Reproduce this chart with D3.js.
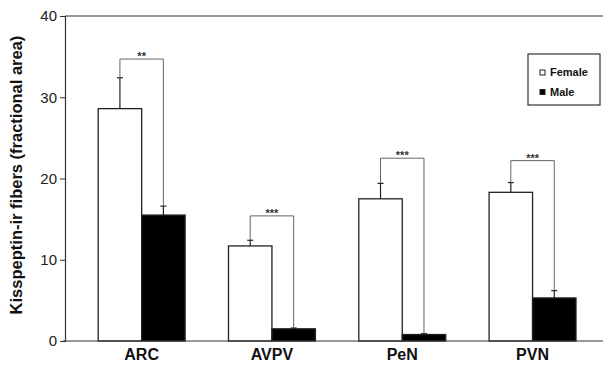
<!DOCTYPE html>
<html>
<head>
<meta charset="utf-8">
<script src="https://cdn.jsdelivr.net/npm/d3@7"></script>
<style>
  body { margin: 0; background: #fff; }
  svg { display: block; font-family: "Liberation Sans", Arial, sans-serif; }
</style>
</head>
<body>
<script>
const regions = ['ARC', 'AVPV', 'PeN', 'PVN'];
const femaleMean = [28.6, 11.7, 17.5, 18.3];
const femaleErr = [3.8, 0.7, 1.9, 1.2];
const maleMean = [15.5, 1.5, 0.8, 5.3];
const maleErr = [1.1, 0.1, 0.1, 0.9];
const sigLabels = ['**', '***', '***', '***'];
const bracketTop = [34.7, 15.4, 22.5, 22.2];
const yTicks = [0, 10, 20, 30, 40];

const W = 603, H = 366;
const svg = d3.select('body').append('svg').attr('width', W).attr('height', H);

const y = d3.scaleLinear().domain([0, 40]).range([341, 16]);
const x = d3.scaleBand().domain(regions).range([76.5, 597.7])
  .paddingInner(0.333).paddingOuter(0.1665);
const sub = d3.scaleBand().domain(['Female', 'Male']).range([0, x.bandwidth()]);

const stroke = '#222';

// frame: top line
svg.append('line')
  .attr('x1', 65).attr('x2', W).attr('y1', y(40)).attr('y2', y(40))
  .attr('stroke', '#333').attr('stroke-width', 1.2);

// y axis
const yAxis = d3.axisLeft(y).tickValues(yTicks).tickSize(5).tickPadding(3);
const gy = svg.append('g').attr('transform', 'translate(65,0)').call(yAxis);
gy.select('.domain').attr('stroke', '#333').attr('stroke-width', 1.2);
gy.selectAll('.tick line').attr('stroke', '#333');
gy.selectAll('text').attr('font-size', 15).attr('fill', '#222')
  .attr('font-family', '"Liberation Sans", Arial, sans-serif');

// bars
const groups = svg.selectAll('g.grp').data(regions).enter().append('g')
  .attr('class', 'grp')
  .attr('transform', d => 'translate(' + x(d) + ',0)');

groups.append('rect')
  .attr('x', sub('Female')).attr('width', sub.bandwidth())
  .attr('y', (d, i) => y(femaleMean[i]))
  .attr('height', (d, i) => y(0) - y(femaleMean[i]))
  .attr('fill', '#fff').attr('stroke', stroke).attr('stroke-width', 1.3);

groups.append('rect')
  .attr('x', sub('Male')).attr('width', sub.bandwidth())
  .attr('y', (d, i) => y(maleMean[i]))
  .attr('height', (d, i) => y(0) - y(maleMean[i]))
  .attr('fill', '#000').attr('stroke', stroke).attr('stroke-width', 1.3);

// error bars (upper only)
function errBar(g, cx, mean, err) {
  g.append('line').attr('x1', cx).attr('x2', cx)
    .attr('y1', y(mean)).attr('y2', y(mean + err))
    .attr('stroke', stroke).attr('stroke-width', 1.2);
  g.append('line').attr('x1', cx - 3).attr('x2', cx + 3)
    .attr('y1', y(mean + err)).attr('y2', y(mean + err))
    .attr('stroke', stroke).attr('stroke-width', 1.2);
}

groups.each(function(d, i) {
  const g = d3.select(this);
  const fx = sub('Female') + sub.bandwidth() / 2;
  const mx = sub('Male') + sub.bandwidth() / 2;
  errBar(g, fx, femaleMean[i], femaleErr[i]);
  errBar(g, mx, maleMean[i], maleErr[i]);

  // significance bracket
  const top = y(bracketTop[i]);
  g.append('path')
    .attr('d', 'M' + fx + ',' + y(femaleMean[i] + femaleErr[i]) +
      'V' + top + 'H' + mx + 'V' + y(maleMean[i] + maleErr[i]))
    .attr('fill', 'none').attr('stroke', '#555').attr('stroke-width', 0.9);
  g.append('text')
    .attr('x', (fx + mx) / 2).attr('y', top + 1)
    .attr('text-anchor', 'middle')
    .attr('font-size', 11).attr('font-weight', 'bold').attr('fill', '#333')
    .text(sigLabels[i]);
});

// x axis
svg.append('line')
  .attr('x1', 63).attr('x2', W).attr('y1', y(0)).attr('y2', y(0))
  .attr('stroke', '#333').attr('stroke-width', 1.2);

svg.selectAll('text.cat').data(regions).enter().append('text')
  .attr('class', 'cat')
  .attr('x', d => x(d) + x.bandwidth() / 2)
  .attr('y', 360)
  .attr('text-anchor', 'middle')
  .attr('font-size', 16).attr('font-weight', 'bold').attr('fill', '#111')
  .text(d => d);

// y label
svg.append('text')
  .attr('transform', 'translate(22,175) rotate(-90)')
  .attr('text-anchor', 'middle')
  .attr('font-size', 16.5).attr('font-weight', 'bold').attr('fill', '#111')
  .text('Kisspeptin-ir fibers (fractional area)');

// legend
const lg = svg.append('g').attr('transform', 'translate(528,54)');
lg.append('rect').attr('width', 72).attr('height', 51)
  .attr('fill', '#fff').attr('stroke', '#333').attr('stroke-width', 1.2);
const legendItems = [{ name: 'Female', fill: '#fff' }, { name: 'Male', fill: '#000' }];
legendItems.forEach((it, i) => {
  lg.append('rect').attr('x', 12).attr('y', 16 + i * 19.5).attr('width', 5).attr('height', 5)
    .attr('fill', it.fill).attr('stroke', '#222').attr('stroke-width', 1);
  lg.append('text').attr('x', 22).attr('y', 22 + i * 19.5)
    .attr('font-size', 11).attr('font-weight', 'bold').attr('fill', '#111')
    .text(it.name);
});
</script>
</body>
</html>
